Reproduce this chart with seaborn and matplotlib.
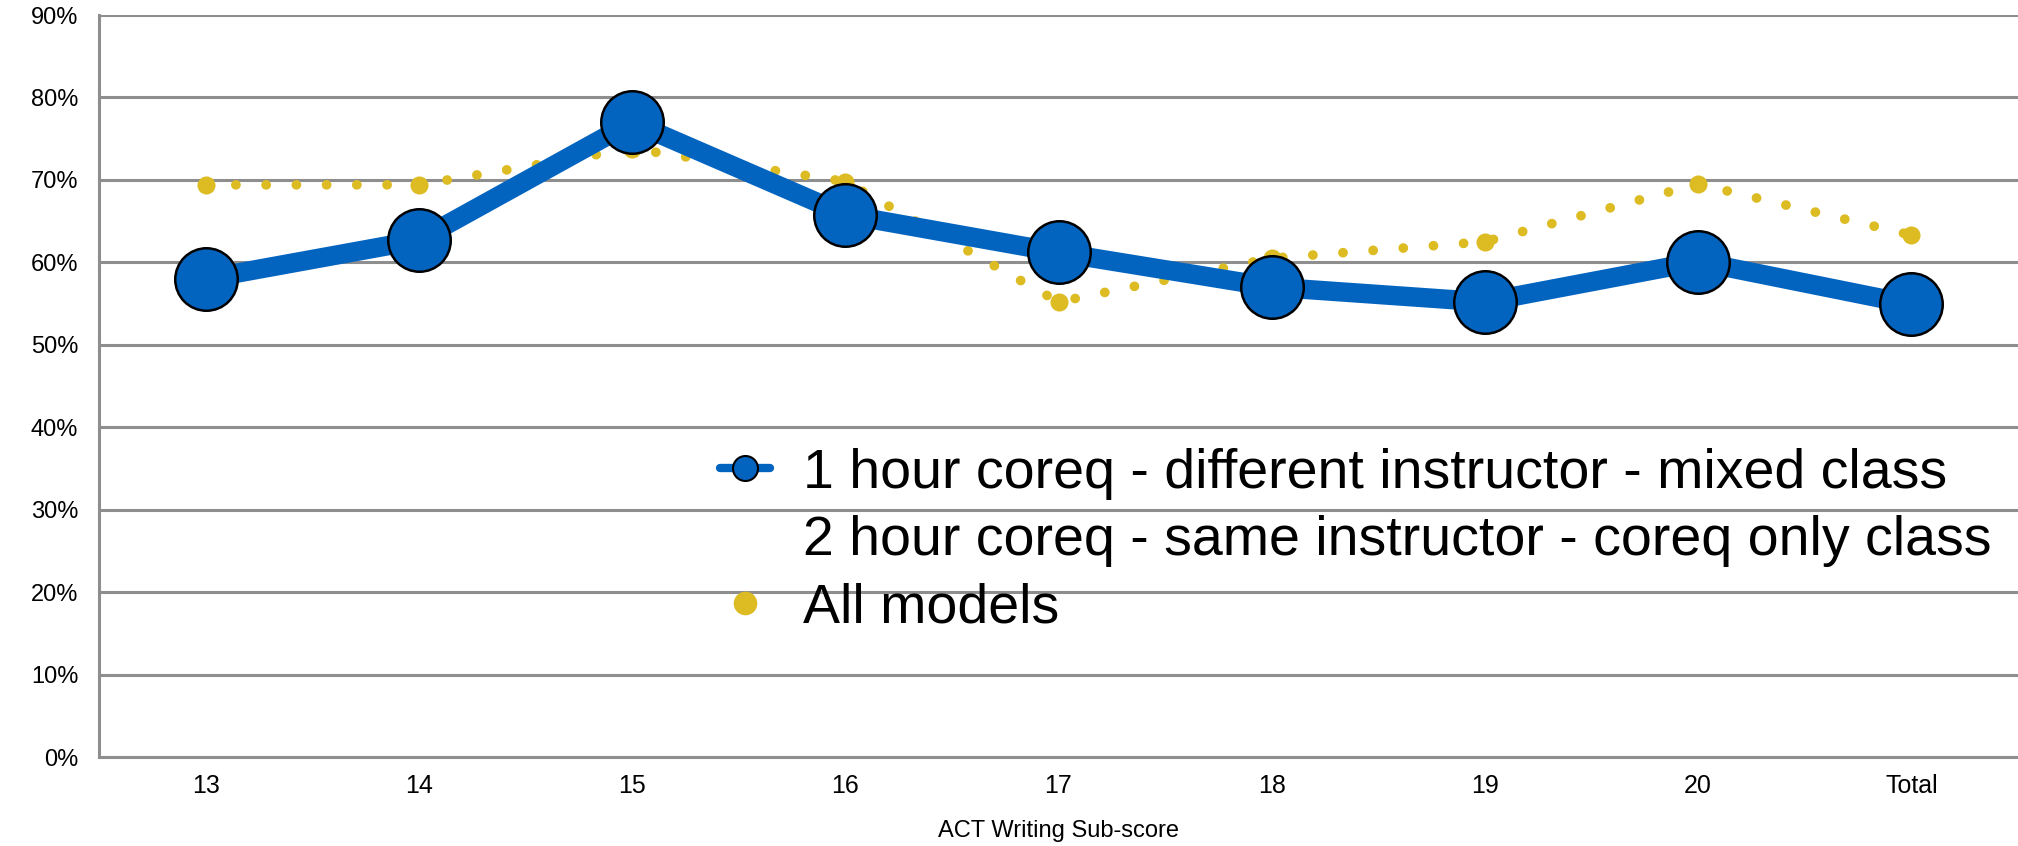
import numpy as np
import pandas as pd
import matplotlib
matplotlib.use("Agg")
import matplotlib.pyplot as plt
from matplotlib.lines import Line2D
from matplotlib.ticker import FuncFormatter, FixedLocator
import seaborn as sns

sns.set_style("white")
plt.rcParams['font.family'] = ['Liberation Sans', 'DejaVu Sans']
plt.rcParams['text.color'] = 'black'
plt.rcParams['xtick.color'] = 'black'
plt.rcParams['ytick.color'] = 'black'
plt.rcParams['axes.labelcolor'] = 'black'

categories = ["13", "14", "15", "16", "17", "18", "19", "20", "Total"]
one_hour = [0.580, 0.627, 0.770, 0.658, 0.612, 0.570, 0.552, 0.601, 0.549]
all_models = [0.694, 0.694, 0.738, 0.698, 0.552, 0.605, 0.625, 0.695, 0.633]

label_1 = "1 hour coreq - different instructor - mixed class"
label_2 = "2 hour coreq - same instructor - coreq only class"
label_3 = "All models"

blue = "#0364c0"
gold = "#dcbc22"
grid_gray = "#8e8e8e"

df = pd.DataFrame({"pos": np.arange(len(categories)),
                   "one_hour": one_hour, "all_models": all_models})

fig = plt.figure(figsize=(20.18, 8.46), dpi=100)
ax = fig.add_axes([99 / 2018, 89 / 846, 1919 / 2018, 742 / 846])

sns.lineplot(data=df, x="pos", y="all_models", ax=ax, color=gold,
             linewidth=7, linestyle=(0, (0.01, 3.1)), dash_capstyle="round",
             marker="o", markersize=13, markeredgewidth=0,
             markerfacecolor=gold, zorder=3)
sns.lineplot(data=df, x="pos", y="one_hour", ax=ax, color=blue,
             linewidth=14, marker="o", markersize=45,
             markerfacecolor=blue, markeredgecolor="black",
             markeredgewidth=1.8, zorder=4)

ax.set_xlim(-0.5, len(categories) - 0.5)
ax.set_ylim(0, 0.9)
ax.set_yticks(np.arange(0, 0.91, 0.1))
ax.yaxis.set_major_formatter(FuncFormatter(lambda v, _: f"{v*100:.0f}%"))
ax.set_xticks(df["pos"])
ax.set_xticklabels(categories)
ax.xaxis.set_minor_locator(FixedLocator(np.arange(-0.5, len(categories) - 0.9, 1.0)))

ax.grid(axis="y", color=grid_gray, linewidth=2.2)
ax.set_axisbelow(True)
for side in ["top", "right"]:
    ax.spines[side].set_visible(False)
for side in ["left", "bottom"]:
    ax.spines[side].set_color(grid_gray)
    ax.spines[side].set_linewidth(2.2)

ax.tick_params(axis="y", length=5, width=2.2, color=grid_gray, pad=10, labelsize=17)
ax.tick_params(axis="x", which="major", length=0, pad=12, labelsize=18)
ax.tick_params(axis="x", which="minor", length=8, width=2, color=grid_gray, direction="out")

ax.set_xlabel("ACT Writing Sub-score", fontsize=17, labelpad=16)
ax.set_ylabel("")

handles = [
    Line2D([], [], color=blue, linewidth=6, marker="o", markersize=18,
           markerfacecolor=blue, markeredgecolor="black", markeredgewidth=1.5),
    Line2D([], [], color="none"),
    Line2D([], [], color="none", marker="o", markersize=17,
           markerfacecolor=gold, markeredgewidth=0),
]
ax.legend(handles, [label_1, label_2, label_3], loc="upper left",
          bbox_to_anchor=(0.312, 0.447), frameon=False, fontsize=40,
          handlelength=0.9, handletextpad=0.6, labelspacing=0.28,
          borderaxespad=0)

fig.savefig("out.png", dpi=100)
